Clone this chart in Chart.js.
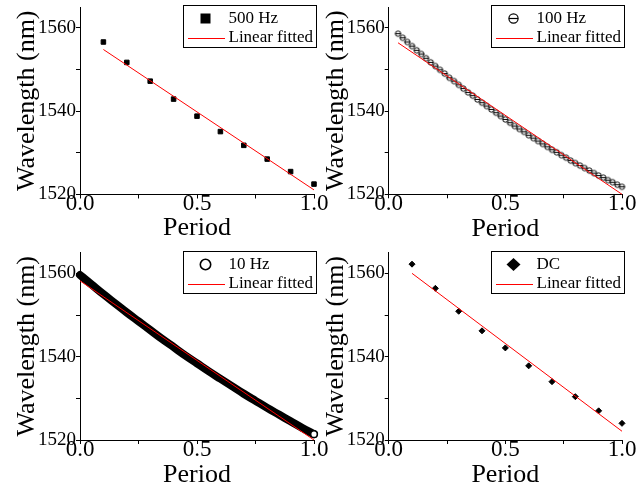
<!DOCTYPE html>
<html>
<head>
<meta charset="utf-8">
<title>Wavelength vs period</title>
<script src="https://cdn.jsdelivr.net/npm/chart.js@4.4.1/dist/chart.umd.min.js"></script>
<style>
  html, body { margin: 0; padding: 0; background: #fff; }
  #figure { position: relative; width: 644px; height: 488px; overflow: hidden; background: #fff; }
  #figure canvas { position: absolute; }
</style>
</head>
<body>
<div id="figure">
  <canvas id="p500"></canvas>
  <canvas id="p100"></canvas>
  <canvas id="p10"></canvas>
  <canvas id="pdc"></canvas>
</div>
<script>
'use strict';

// 500 Hz
const period500 = [0.1, 0.2, 0.3, 0.4, 0.5, 0.6, 0.7, 0.8, 0.9, 1.0];
const wl500 = [1556.6, 1551.7, 1547.2, 1542.9, 1538.8, 1535.1, 1531.8, 1528.5, 1525.5, 1522.5];
const fitPeriod500 = [0.1, 1.0];
const fitWl500 = [1554.8, 1521.1];

// 100 Hz
const period100 = [0.04, 0.06, 0.08, 0.10, 0.12, 0.14, 0.16, 0.18, 0.20, 0.22,
  0.24, 0.26, 0.28, 0.30, 0.32, 0.34, 0.36, 0.38, 0.40, 0.42,
  0.44, 0.46, 0.48, 0.50, 0.52, 0.54, 0.56, 0.58, 0.60, 0.62,
  0.64, 0.66, 0.68, 0.70, 0.72, 0.74, 0.76, 0.78, 0.80, 0.82,
  0.84, 0.86, 0.88, 0.90, 0.92, 0.94, 0.96, 0.98, 1.00];
const wl100 = [1558.6, 1557.6, 1556.6, 1555.6, 1554.6, 1553.7, 1552.7, 1551.7, 1550.8, 1549.9,
  1549.0, 1548.0, 1547.2, 1546.3, 1545.4, 1544.5, 1543.7, 1542.8, 1542.0, 1541.2,
  1540.4, 1539.6, 1538.8, 1538.0, 1537.2, 1536.4, 1535.7, 1535.0, 1534.2, 1533.5,
  1532.8, 1532.1, 1531.4, 1530.7, 1530.1, 1529.4, 1528.8, 1528.1, 1527.5, 1526.9,
  1526.3, 1525.7, 1525.1, 1524.5, 1524.0, 1523.4, 1522.9, 1522.3, 1521.8];
const fitPeriod100 = [0.04, 1.0];
const fitWl100 = [1556.4, 1520.0];

// 10 Hz
const period10 = [0, 0.05, 0.10, 0.15, 0.20, 0.25, 0.30, 0.35, 0.40, 0.45, 0.50,
  0.55, 0.60, 0.65, 0.70, 0.75, 0.80, 0.85, 0.90, 0.95, 1.00];
const wl10 = [1559.6, 1557.3, 1555.0, 1552.8, 1550.6, 1548.5, 1546.4, 1544.3, 1542.3, 1540.3, 1538.4,
  1536.5, 1534.7, 1532.9, 1531.1, 1529.4, 1527.7, 1526.1, 1524.5, 1522.9, 1521.4];
const fitPeriod10 = [0, 1.0];
const fitWl10 = [1558.2, 1520.0];

// DC
const periodDC = [0.1, 0.2, 0.3, 0.4, 0.5, 0.6, 0.7, 0.8, 0.9, 1.0];
const wlDC = [1562.2, 1556.4, 1550.9, 1546.2, 1542.1, 1537.8, 1534.0, 1530.4, 1527.0, 1524.0];
const fitPeriodDC = [0.1, 1.0];
const fitWlDC = [1560.0, 1522.1];

// axes
const xTicks = [0, 0.25, 0.5, 0.75, 1];
const xLabelled = [0, 0.5, 1];
const yTicks = [1520, 1530, 1540, 1550, 1560];
const yLabelled = [1520, 1540, 1560];
const yMin = 1520;
const yMax = 1565;

const SERIF = '"Liberation Serif", "Times New Roman", serif';
Chart.defaults.font.family = SERIF;
Chart.defaults.color = '#000';

const toPoints = (xs, ys) => xs.map((x, i) => ({ x, y: ys[i] }));

/** Small circle with a bar through it, used as the 100 Hz marker. */
function barCircle(r, lw) {
  const s = Math.ceil(2 * r + 2 * lw + 1);
  const c = document.createElement('canvas');
  c.width = c.height = s;
  const g = c.getContext('2d');
  const m = s / 2;
  g.beginPath();
  g.arc(m, m, r, 0, Math.PI * 2);
  g.fillStyle = '#fff';
  g.fill();
  g.lineWidth = lw;
  g.strokeStyle = '#000';
  g.stroke();
  g.beginPath();
  g.moveTo(m - r, m);
  g.lineTo(m + r, m);
  g.stroke();
  return c;
}

function drawSymbol(ctx, kind, x, y) {
  ctx.save();
  ctx.fillStyle = '#000';
  ctx.strokeStyle = '#000';
  ctx.beginPath();
  switch (kind) {
    case 'square':
      ctx.fillRect(x - 5, y - 5, 10, 10);
      break;
    case 'barCircle':
      ctx.arc(x, y, 4.6, 0, Math.PI * 2);
      ctx.fillStyle = '#fff';
      ctx.fill();
      ctx.lineWidth = 1.2;
      ctx.stroke();
      ctx.beginPath();
      ctx.moveTo(x - 4.6, y);
      ctx.lineTo(x + 4.6, y);
      ctx.stroke();
      break;
    case 'circle':
      ctx.arc(x, y, 5.2, 0, Math.PI * 2);
      ctx.fillStyle = '#fff';
      ctx.fill();
      ctx.lineWidth = 1.6;
      ctx.stroke();
      break;
    case 'diamond':
      ctx.moveTo(x - 7, y);
      ctx.lineTo(x, y - 6.5);
      ctx.lineTo(x + 7, y);
      ctx.lineTo(x, y + 6.5);
      ctx.closePath();
      ctx.fill();
      break;
    case 'line':
      ctx.strokeStyle = '#f00';
      ctx.lineWidth = 1;
      ctx.moveTo(x - 17.5, y + 0.5);
      ctx.lineTo(x + 19.5, y + 0.5);
      ctx.stroke();
      break;
  }
  ctx.restore();
}

// framed legend in the top right corner of the plot
const boxLegend = {
  id: 'boxLegend',
  afterDraw(chart, args, opts) {
    const { ctx, chartArea } = chart;
    const sets = chart.data.datasets;
    ctx.save();
    ctx.font = '17px ' + SERIF;
    const textW = Math.max(...sets.map(ds => ctx.measureText(ds.label).width));
    const w = Math.round(45.5 + textW + 3);
    const h = 42;
    const x0 = Math.round(chartArea.right + 1.5 - w);
    const y0 = Math.round(chartArea.top - 1.7);
    ctx.fillStyle = '#fff';
    ctx.fillRect(x0, y0, w, h);
    ctx.strokeStyle = '#000';
    ctx.lineWidth = 1;
    ctx.strokeRect(x0 + 0.5, y0 + 0.5, w, h);
    sets.forEach((ds, i) => {
      const cy = y0 + 13.5 + i * 19.5;
      drawSymbol(ctx, opts.symbols[i], x0 + 22.5, cy);
      ctx.fillStyle = '#000';
      ctx.textBaseline = 'middle';
      ctx.textAlign = 'left';
      ctx.fillText(ds.label, x0 + 45.5, cy);
    });
    ctx.restore();
  }
};

function fitLine(xs, ys) {
  return {
    label: 'Linear fitted',
    data: toPoints(xs, ys),
    showLine: true,
    borderColor: '#f00',
    backgroundColor: '#f00',
    borderWidth: 1,
    pointRadius: 0,
    tension: 0,
    clip: false,
    order: 1
  };
}

function makePanel(id, frame, datasets, symbols) {
  const canvas = document.getElementById(id);
  canvas.width = frame.w;
  canvas.height = frame.h;
  canvas.style.left = frame.x + 'px';
  canvas.style.top = frame.y + 'px';

  return new Chart(canvas, {
    type: 'scatter',
    data: { datasets },
    options: {
      responsive: false,
      animation: false,
      events: [],
      layout: { padding: { top: frame.top, right: frame.w - frame.right, left: 0, bottom: 0 } },
      plugins: {
        legend: { display: false },
        tooltip: { enabled: false },
        boxLegend: { symbols }
      },
      scales: {
        x: {
          type: 'linear',
          min: 0,
          max: 1,
          afterBuildTicks: s => { s.ticks = xTicks.map(value => ({ value })); },
          afterFit: s => {
            s.height = frame.h - frame.bottom;
            s.paddingLeft = 0;
            s.paddingRight = 0;
          },
          ticks: {
            autoSkip: false,
            maxRotation: 0,
            padding: -6,
            font: { size: 23, lineHeight: 1 },
            callback: v => xLabelled.includes(v) ? v.toFixed(1) : ''
          },
          grid: { drawOnChartArea: false, tickLength: 4, color: '#000' },
          border: { color: '#000', width: 1 },
          title: {
            display: true,
            text: 'Period',
            font: { size: 26, lineHeight: 1 },
            padding: { top: 0, bottom: frame.xTitlePad }
          }
        },
        y: {
          type: 'linear',
          min: yMin,
          max: yMax,
          afterBuildTicks: s => { s.ticks = yTicks.map(value => ({ value })); },
          afterFit: s => {
            s.width = frame.left;
            s.paddingTop = 0;
            s.paddingBottom = 0;
          },
          ticks: {
            autoSkip: false,
            padding: 0,
            font: { size: 19 },
            callback: v => yLabelled.includes(v) ? String(v) : ''
          },
          grid: { drawOnChartArea: false, tickLength: 4, color: '#000' },
          border: { color: '#000', width: 1 },
          title: {
            display: true,
            text: 'Wavelength (nm)',
            font: { size: 26, lineHeight: 1 },
            padding: { top: frame.yTitlePad, bottom: 0 }
          }
        }
      }
    },
    plugins: [boxLegend]
  });
}

makePanel('p500',
  { x: 0, y: 0, w: 344, h: 244, left: 80, right: 314, top: 7, bottom: 194.5, yTitlePad: 13.7, xTitlePad: 2.5 },
  [
    {
      label: '500 Hz',
      data: toPoints(period500, wl500),
      pointStyle: 'rect',
      pointRadius: 3.2,
      backgroundColor: '#000',
      borderColor: '#000',
      borderWidth: 1,
      clip: false,
      order: 2
    },
    fitLine(fitPeriod500, fitWl500)
  ],
  ['square', 'line']);

makePanel('p100',
  { x: 322, y: 0, w: 322, h: 244, left: 66.7, right: 300, top: 7, bottom: 194.3, yTitlePad: 1, xTitlePad: 1.5 },
  [
    {
      label: '100 Hz',
      data: toPoints(period100, wl100),
      pointStyle: barCircle(2.7, 1),
      pointRadius: 3,
      backgroundColor: '#fff',
      borderColor: '#000',
      clip: false,
      order: 2
    },
    fitLine(fitPeriod100, fitWl100)
  ],
  ['barCircle', 'line']);

makePanel('p10',
  { x: 0, y: 244, w: 344, h: 244, left: 80, right: 314, top: 8.5, bottom: 196, yTitlePad: 13.7, xTitlePad: 0 },
  [
    {
      label: '10 Hz',
      data: toPoints(period10, wl10),
      showLine: true,
      borderColor: '#000',
      backgroundColor: '#fff',
      borderWidth: 8,
      borderCapStyle: 'round',
      borderJoinStyle: 'round',
      cubicInterpolationMode: 'monotone',
      pointRadius: ctx => ctx.dataIndex === wl10.length - 1 ? 3.3 : 0,
      pointBackgroundColor: '#fff',
      pointBorderColor: '#000',
      pointBorderWidth: 1.5,
      clip: false,
      order: 2
    },
    fitLine(fitPeriod10, fitWl10)
  ],
  ['circle', 'line']);

makePanel('pdc',
  { x: 322, y: 244, w: 322, h: 244, left: 66.7, right: 300, top: 8.5, bottom: 196, yTitlePad: 1, xTitlePad: 0 },
  [
    {
      label: 'DC',
      data: toPoints(periodDC, wlDC),
      pointStyle: 'rectRot',
      pointRadius: 3,
      backgroundColor: '#000',
      borderColor: '#000',
      borderWidth: 1,
      clip: false,
      order: 2
    },
    fitLine(fitPeriodDC, fitWlDC)
  ],
  ['diamond', 'line']);
</script>
</body>
</html>
